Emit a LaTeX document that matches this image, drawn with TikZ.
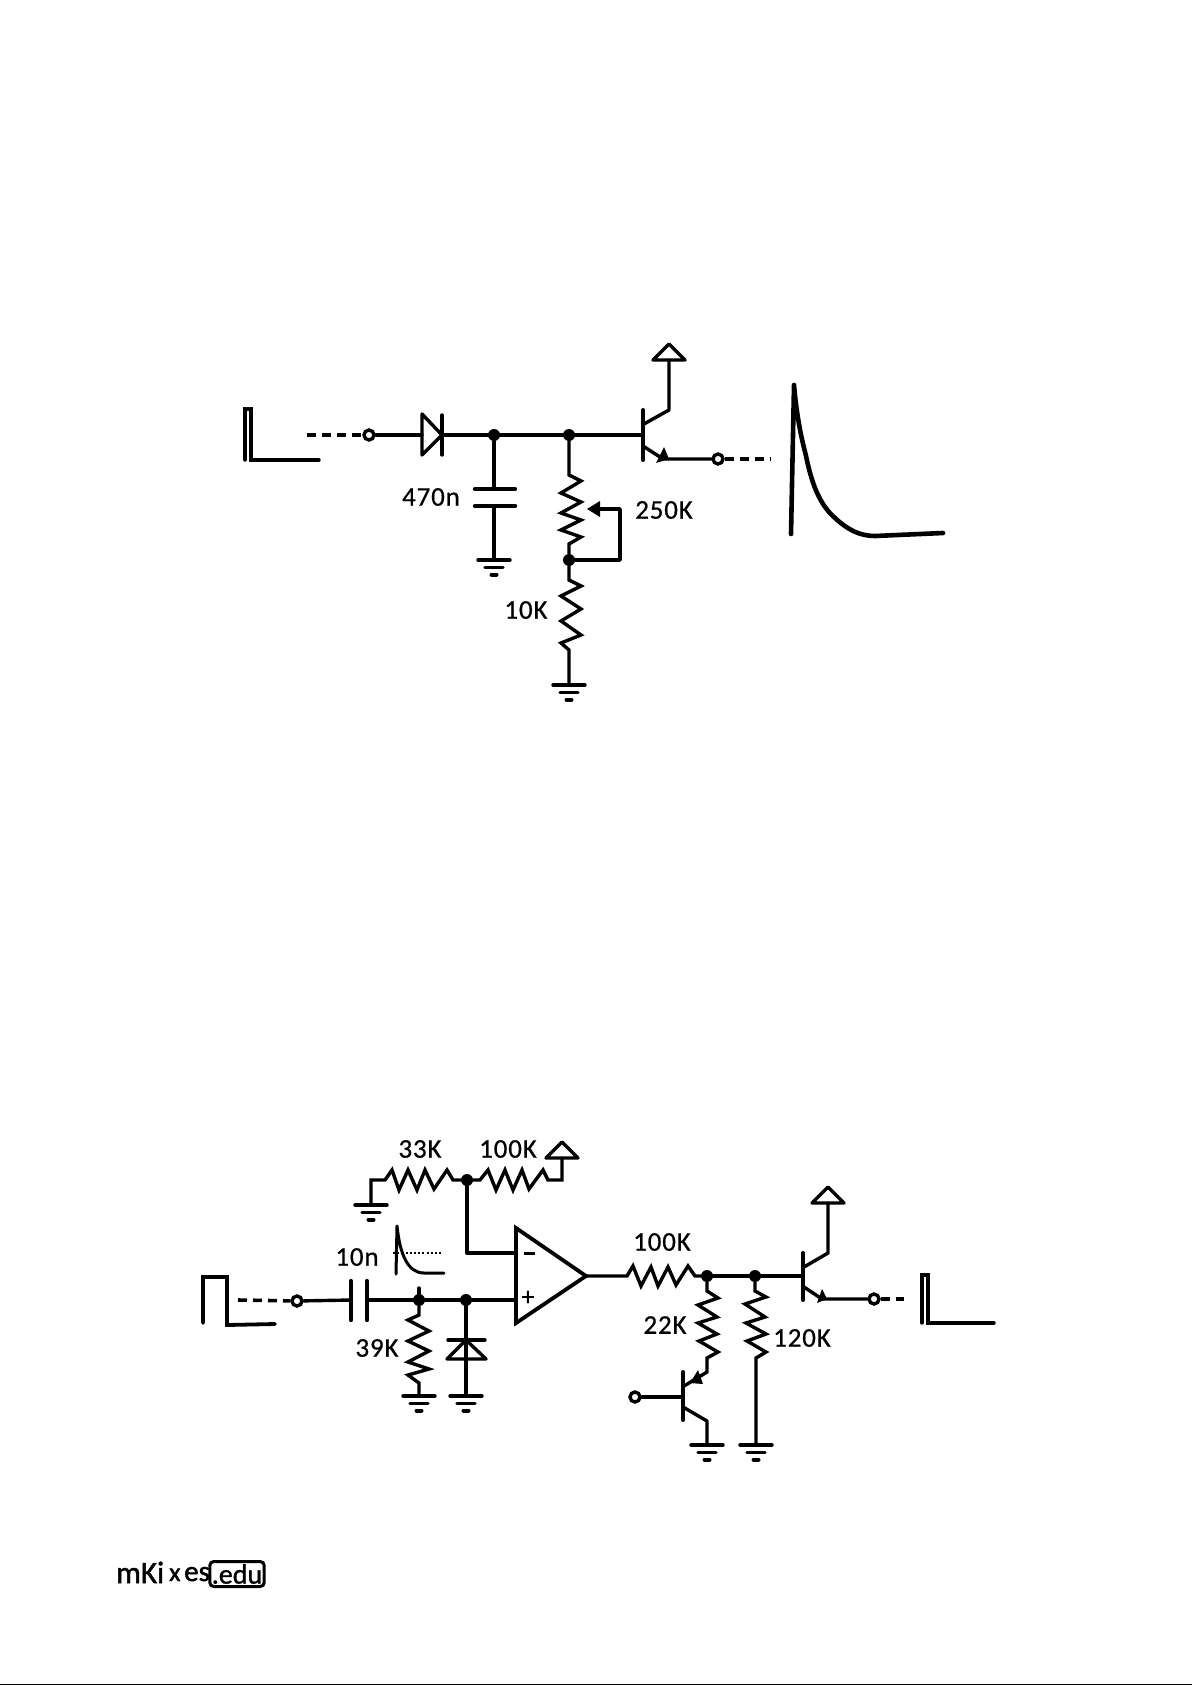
\documentclass[tikz,border=0pt]{standalone}
\usepackage{fontspec}
\setmainfont[FakeBold=0.6]{Carlito}
\tikzset{
  wire/.style={line width=3.4pt,line cap=round,line join=round},
  res/.style={line width=3.4pt,line cap=round,line join=miter},
  wave/.style={line width=3.4pt,line cap=round,line join=miter},
  dash wire/.style={line width=3.6pt,dash pattern=on 9pt off 6pt},
  dotn/.style={circle,fill=black,inner sep=0pt,minimum size=12pt},
  port/.style={circle,draw,line width=3.4pt,fill=white,inner sep=0pt,minimum size=10pt},
  lab/.style={font=\fontsize{27}{27}\addfontfeature{FakeBold=0.6,LetterSpace=3}\selectfont,inner sep=0pt},
  gnd/.pic={
    \draw[wire] (-16,0) -- (16,0);
    \draw[wire] (-9,7.5) -- (9,7.5);
    \draw[line width=4pt,line cap=round] (-2.5,14.5) -- (2.5,14.5);
  },
  vcc/.pic={
    \draw[wire] (-16,0) -- (16,0) -- (0,-16) -- cycle;
  }
}
\begin{document}
\begin{tikzpicture}[x=1pt,y=-1pt]
\useasboundingbox (0,0) rectangle (1192,1685);
\fill[white] (0,0) rectangle (1192,1685);
\fill[black] (0,1683.6) rectangle (1192,1685);

%%% TOP CIRCUIT
\draw[wave] (245,460) -- (245,409) -- (251,409) -- (251,460) -- (319,460);
\node[port] (p1) at (369,435) {};
\coordinate (dash1) at (307,435);
\draw[dash wire] (dash1) -- (p1);
\coordinate (dA) at (422,435);
\coordinate (dK) at (442,435);
\node[dotn] (n1) at (494,435) {};
\node[dotn] (n2) at (569,435) {};
\coordinate (q1b) at (643,435);
\draw[wire] (p1) -- (dA);
\draw[wire] (dK) -- (n1) -- (n2) -- (q1b);
\draw[wire] (dA) ++(0,-21) -- ++(0,41) -- (dK) -- cycle;
\draw[wire] (442,415) -- (442,455);
% capacitor
\coordinate (c1t) at (494,489);
\coordinate (c1b) at (494,506);
\coordinate (g1) at (494,560);
\draw[wire] (n1) -- (c1t);
\draw[wire] (c1b) -- (g1);
\draw[line width=4.4pt,line cap=round] (475,489) -- (515,489);
\draw[line width=4.4pt,line cap=round] (475,506) -- (515,506);
\pic at (g1) {gnd};
% pot
\node[dotn] (n3) at (569,560) {};
\draw[res] (n2) -- (569,475) -- (581,481) -- (561,493) -- (581,502) -- (561,513) -- (581,520) -- (561,530) -- (581,537) -- (569,544) -- (n3);
\coordinate (g2) at (569,685);
\draw[res] (n3) -- (569,580) -- (581,586) -- (561,596) -- (581,609) -- (561,621) -- (581,635) -- (561,643) -- (569,650) -- (g2);
\pic at (g2) {gnd};
\coordinate (wip) at (596,509);
\draw[wire] (n3) -- (620,560) -- (620,509) -- (wip);
\fill (587,509) -- (600,501) -- (600,517) -- cycle;
% transistor
\draw[line width=4pt,line cap=round] (643,410) -- (643,460);
\coordinate (v1) at (669,360);
\draw[wire] (644,424) -- (669,410) -- (v1);
\pic at (v1) {vcc};
\node[port] (p2) at (718,459) {};
\draw[wire] (643,446) -- (663,459) -- (p2);
\fill (656,463) -- (664,447) -- (669,459) -- cycle;
\coordinate (dash2) at (770,459);
\draw[dash wire] (p2) -- (dash2);
% output wave
\draw[line width=4.6pt,line cap=round,line join=round] (791,534) -- (794,385)
  .. controls (797,420) and (802,440) .. (806,456)
  .. controls (812,485) and (820,505) .. (835,518)
  .. controls (848,530) and (860,536) .. (875,536)
  -- (943,533);

\node[lab] (l470n) at (431,497) {470n};
\node[lab] (l250k) at (664,510) {250K};
\node[lab] (l10k) at (526,610) {10K};

%%% BOTTOM CIRCUIT
\draw[wave,line width=3.8pt] (203,1323) -- (203,1277) -- (227,1277) -- (227,1325) -- (275,1324);
\node[port] (p3) at (297,1301) {};
\coordinate (dash3) at (238,1300);
\draw[dash wire] (dash3) -- (p3);
\coordinate (c2a) at (351,1300);
\coordinate (c2b) at (367,1300);
\draw[wire] (p3) -- (c2a);
\draw[line width=4.4pt,line cap=round] (351,1281) -- (351,1320);
\draw[line width=4.4pt,line cap=round] (367,1281) -- (367,1320);
\node[dotn] (n4) at (419,1300) {};
\node[dotn] (n5) at (466,1300) {};
\coordinate (oapl) at (516,1300);
\draw[wire] (c2b) -- (n4) -- (n5) -- (oapl);
\draw[wire] (n4) -- (419,1288);
% 39K
\coordinate (g3) at (419,1396);
\draw[res] (n4) -- (419,1315) -- (408,1320) -- (429,1331) -- (408,1341) -- (429,1351) -- (408,1362) -- (429,1369) -- (408,1375) -- (419,1383) -- (g3);
\pic at (g3) {gnd};
% diode
\coordinate (g4) at (466,1396);
\draw[wire] (n5) -- (g4);
\draw[wire] (448,1340) -- (485,1340);
\draw[wire] (447,1359) -- (486,1359) -- (466,1340) -- cycle;
\pic at (g4) {gnd};
% opamp
\draw[line width=3.8pt,line join=miter] (516,1228) -- (586,1276) -- (516,1323) -- cycle;
\node[lab,font=\fontsize{26}{26}\selectfont] (plus) at (528,1298) {+};
\draw[line width=3pt] (524,1253) -- (535,1253);
\node[dotn] (n6) at (467,1180) {};
\coordinate (oapm) at (516,1253);
\draw[wire] (n6) -- (467,1253) -- (oapm);
% 33K
\coordinate (g5) at (371,1205);
\draw[res] (g5) -- (371,1180) -- (385,1180) -- (392,1170) -- (399,1190) -- (408,1170) -- (417,1190) -- (425,1170) -- (434,1189) -- (447,1170) -- (453,1180) -- (n6);
\pic at (g5) {gnd};
% 100K top
\coordinate (v2) at (562,1158);
\draw[res] (n6) -- (480,1180) -- (488,1170) -- (496,1190) -- (505,1170) -- (513,1190) -- (522,1170) -- (529,1189) -- (543,1170) -- (548,1180) -- (562,1180) -- (v2);
\pic at (v2) {vcc};
% 10n inset
\draw[line width=3pt,line cap=round,line join=round] (396,1274) -- (397,1226)
  .. controls (400,1255) and (408,1273) .. (424,1273) -- (444,1273);
\draw[line width=1.2pt,dash pattern=on 2pt off 2.2pt] (393,1253) -- (441,1253);
% output side
\node[dotn] (n7) at (707,1276) {};
\node[dotn] (n8) at (755,1276) {};
\coordinate (oout) at (586,1276);
\coordinate (q2b) at (803,1276);
\draw[res] (oout) -- (627,1276) -- (633,1266) -- (641,1286) -- (651,1267) -- (658,1286) -- (668,1267) -- (676,1285) -- (688,1266) -- (695,1276) -- (n7);
\draw[wire] (n7) -- (n8) -- (q2b);
\draw[line width=4pt,line cap=round] (803,1253) -- (803,1300);
\coordinate (v3) at (828,1203);
\draw[wire] (804,1267) -- (828,1253) -- (v3);
\pic at (v3) {vcc};
\node[port] (p4) at (874,1299) {};
\draw[wire] (804,1287) -- (822,1299) -- (p4);
\fill (817,1303) -- (822,1289) -- (827,1299) -- cycle;
\coordinate (dash4) at (904,1299);
\draw[dash wire] (p4) -- (dash4);
\draw[wave] (922,1323) -- (922,1275) -- (928,1275) -- (928,1323) -- (994,1323);
% 22K
\draw[res] (n7) -- (707,1291) -- (718,1298) -- (698,1305) -- (717,1317) -- (698,1323) -- (717,1334) -- (699,1341) -- (718,1352) -- (707,1358) -- (707,1372) -- (684,1386);
\fill (690,1383) -- (698,1370) -- (703,1384) -- cycle;
\draw[line width=4pt,line cap=round] (683,1372) -- (683,1420);
\node[port] (p5) at (635,1397) {};
\coordinate (q3b) at (683,1397);
\draw[wire] (p5) -- (q3b);
\coordinate (g6) at (707,1445);
\draw[wire] (683,1407) -- (707,1421) -- (g6);
\pic at (g6) {gnd};
% 120K
\coordinate (g7) at (756,1445);
\draw[res] (n8) -- (755,1291) -- (766,1297) -- (745,1304) -- (765,1317) -- (746,1323) -- (766,1334) -- (747,1341) -- (766,1352) -- (756,1358) -- (g7);
\pic at (g7) {gnd};

\node[lab] (l33k) at (420,1149) {33K};
\node[lab] (l100a) at (508,1149) {100K};
\node[lab] (l10n) at (357,1257) {10n};
\node[lab] (l39k) at (377,1348) {39K};
\node[lab] (l100b) at (662,1242) {100K};
\node[lab] (l22k) at (665,1325) {22K};
\node[lab] (l120k) at (802,1338) {120K};

%%% FOOTER
\node[inner sep=0pt,font=\fontsize{31}{31}\addfontfeature{FakeBold=1.5}\selectfont,anchor=base west] (ft1) at (116,1583) {mKi};
\node[inner sep=0pt,font=\fontsize{26}{26}\addfontfeature{FakeBold=1.5}\selectfont,anchor=base west] (ft2) at (169,1581) {x};
\node[inner sep=0pt,font=\fontsize{29}{29}\addfontfeature{FakeBold=1.5}\selectfont,anchor=base west] (ft3) at (184,1581) {es};
\node[lab,font=\fontsize{28}{28}\addfontfeature{FakeBold=1}\selectfont,draw,line width=3pt,rounded corners=4pt,inner xsep=2pt,minimum height=25pt,minimum width=50pt] (ft4) at (237,1574) {.edu};
\end{tikzpicture}
\end{document}
